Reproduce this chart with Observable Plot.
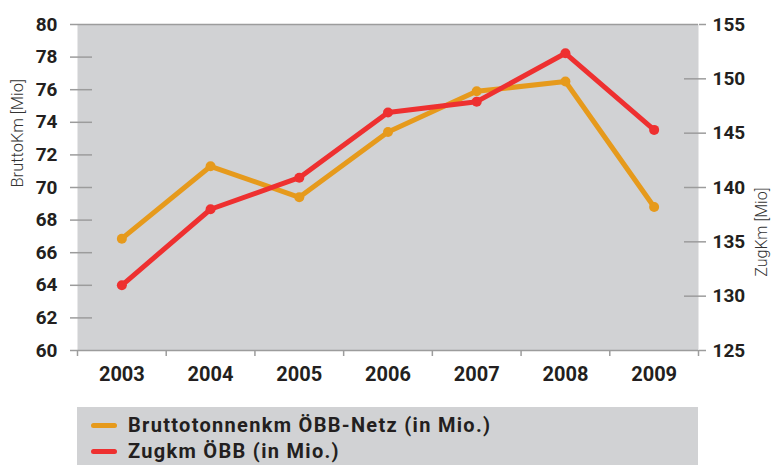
<!DOCTYPE html>
<html>
<head>
<meta charset="utf-8">
<script src="https://cdn.jsdelivr.net/npm/d3@7"></script>
<script src="https://cdn.jsdelivr.net/npm/@observablehq/plot@0.6"></script>
<style>
  html, body { margin: 0; padding: 0; background: #fff; }
  #wrap { position: relative; width: 771px; height: 465px; font-family: Roboto, "DejaVu Sans", sans-serif; }
  #legend { position: absolute; left: 77px; top: 407px; width: 621px; height: 58px; background: #d1d2d4; }
  .sw { position: absolute; left: 14px; width: 26px; height: 5px; border-radius: 3px; }
  .lab { position: absolute; left: 51px; font-weight: 700; font-size: 20px; letter-spacing: 1.3px; color: #231f20; white-space: nowrap; line-height: 20px; }
</style>
</head>
<body>
<div id="wrap">
  <div id="chart"></div>
  <div id="legend"></div>
</div>
<script>
const years = [2003, 2004, 2005, 2006, 2007, 2008, 2009];
const bruttoKm = [66.86, 71.3, 69.4, 73.4, 75.9, 76.5, 68.8];   // left axis (Mio)
const zugKm = [131.0, 138.0, 140.9, 146.9, 147.9, 152.35, 145.3]; // right axis (Mio)
const leftTicks = [60, 62, 64, 66, 68, 70, 72, 74, 76, 78, 80];
const rightTicks = [125, 130, 135, 140, 145, 150, 155];
const seriesNames = ["Bruttotonnenkm ÖBB-Netz (in Mio.)", "Zugkm ÖBB (in Mio.)"];
const colors = ["#e69a1c", "#ee3030"];

// map right-axis values onto left-axis scale
const r2l = d3.scaleLinear().domain([125, 155]).range([60, 80]);

const orangeData = years.map((y, i) => ({year: y, v: bruttoKm[i]}));
const redData = years.map((y, i) => ({year: y, v: r2l(zugKm[i])}));
const boundaries = years.map(y => y - 0.5).concat([years[years.length - 1] + 0.5]);
const innerLeft = leftTicks.slice(1, -1);
const innerRight = rightTicks.slice(1, -1);

const tickColor = "#9c9c9c";
const textColor = "#231f20";

const chart = Plot.plot({
  width: 771,
  height: 395,
  marginLeft: 77,
  marginRight: 73,
  marginTop: 24,
  marginBottom: 45,
  style: {fontFamily: "Roboto, 'DejaVu Sans', sans-serif", color: textColor, background: "transparent"},
  x: {domain: [years[0] - 0.5, years[years.length - 1] + 0.5]},
  y: {domain: [60, 80]},
  marks: [
    Plot.frame({fill: "#d1d2d4", stroke: null}),
    Plot.ruleY([60, 80], {stroke: tickColor, strokeWidth: 1.5}),
    // left axis: outside ticks + labels
    Plot.axisY({anchor: "left", ticks: leftTicks, tickSize: 7, tickPadding: 13, stroke: tickColor, strokeWidth: 1.5,
      tickFormat: d => String(d), fontSize: 19, fontWeight: 700, fill: textColor, label: null}),
    // left inner ticks
    Plot.axisY({anchor: "left", ticks: innerLeft, tickSize: -15, stroke: tickColor, strokeWidth: 1.5, tickFormat: () => "", label: null}),
    // right axis
    Plot.axisY({anchor: "right", ticks: rightTicks.map(r2l), tickSize: 7, tickPadding: 7, stroke: tickColor, strokeWidth: 1.5,
      tickFormat: d => String(Math.round(r2l.invert(d))), fontSize: 19, fontWeight: 700, fill: textColor, label: null}),
    Plot.axisY({anchor: "right", ticks: innerRight.map(r2l), tickSize: -15, stroke: tickColor, strokeWidth: 1.5, tickFormat: () => "", label: null}),
    // x axis boundary ticks
    Plot.axisX({anchor: "bottom", ticks: boundaries, tickSize: 6, stroke: tickColor, strokeWidth: 1.5, tickFormat: () => "", label: null}),
    // year labels
    Plot.axisX({anchor: "bottom", ticks: years, tickSize: 0, tickPadding: 16, tickFormat: d => String(d),
      fontSize: 20, fontWeight: 700, fill: textColor, label: null}),
    // axis titles
    Plot.text(["BruttoKm [Mio]"], {frameAnchor: "left", dx: -60, rotate: -90, fontSize: 16.5, fontWeight: 300, fill: "#333"}),
    Plot.text(["ZugKm [Mio]"], {frameAnchor: "right", dx: 63, rotate: -90, fontSize: 16, fontWeight: 300, fill: "#333"}),
    // series
    Plot.line(orangeData, {x: "year", y: "v", stroke: colors[0], strokeWidth: 5}),
    Plot.dot(orangeData, {x: "year", y: "v", fill: colors[0], r: 5}),
    Plot.line(redData, {x: "year", y: "v", stroke: colors[1], strokeWidth: 5}),
    Plot.dot(redData, {x: "year", y: "v", fill: colors[1], r: 5})
  ]
});
document.getElementById("chart").appendChild(chart);

const legend = document.getElementById("legend");
seriesNames.forEach((name, i) => {
  const sw = document.createElement("div");
  sw.className = "sw";
  sw.style.top = (16 + i * 26) + "px";
  sw.style.background = colors[i];
  legend.appendChild(sw);
  const lab = document.createElement("div");
  lab.className = "lab";
  lab.style.top = (8 + i * 26) + "px";
  lab.textContent = name;
  legend.appendChild(lab);
});
</script>
</body>
</html>
